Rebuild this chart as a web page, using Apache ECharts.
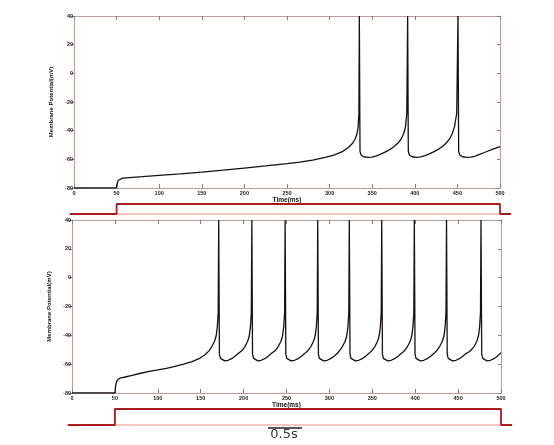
<!DOCTYPE html>
<html><head><meta charset="utf-8">
<script src="https://cdn.jsdelivr.net/npm/echarts@6/dist/echarts.min.js"></script>
<style>html,body{margin:0;padding:0;background:#fff}#c{width:554px;height:445px}</style>
</head><body><div id="c"></div>
<script>
// ---- data (time in ms, membrane potential in mV) ----
const topTrace = [
[0,-80],[50,-80],[50.5,-78],[51,-76],[52,-74.6],[54,-73.6],[57,-73.1],[65,-72.7],[80,-72.1],[100,-71.2],[125,-70.1],[150,-68.9],[175,-67.6],[200,-66.1],[225,-64.6],[250,-63],[265,-61.9],[280,-60.5],[295,-58.7],[305,-57],[315,-54.6],[322,-51.8],[327,-48.8],[330,-45.8],[332,-42.5],[333.5,-37.5],[334.4,-28],
[334.9,40],[335.4,40],[335.7,-54.5],[337,-57],[340,-58.2],[345,-58.7],[350,-58.4],[355,-57.6],[360,-56.4],[365,-55],[370,-53.4],[375,-51.4],[380,-48.8],[384,-45.8],[387,-42],[389,-37.5],[390.6,-28],
[391.6,40],[392.1,40],[392.4,-54.5],[393.7,-57],[397,-58.2],[402,-58.7],[407,-58.3],[412,-57.4],[417,-56.2],[422,-54.8],[427,-53.2],[432,-51.2],[437,-48.6],[441,-45.6],[444,-42],[446.5,-37.5],[449.2,-28],
[450.7,40],[451.2,40],[451.5,-54.5],[452.8,-57],[456,-58.2],[461,-58.7],[466,-58.5],[471,-57.7],[476,-56.6],[481,-55.4],[486,-54.2],[491,-53],[496,-52],[500,-51.2]
];
const bottomTrace = [
[0,-80],[50,-80],[50.5,-77],[51,-74.5],[52,-72],[54,-70.3],[57,-69.5],[62,-68.9],[70,-67.8],[80,-66.3],[90,-65.0],[100,-64.0],[110,-62.9],[120,-61.6],[130,-60.0],[140,-58.2],[148,-56.2],[155,-53.5],[160,-50.6],[163,-47.8],[166,-44.3],[168,-40.5],[169.4,-34],[170.4,-24],
[171,40],[171.5,40],[171.8,-53],[173,-56],[175,-57.3],[178,-57.7],[182,-57.3],[186,-56.2],[190,-54.5],[194,-52.5],
[198.6,-50.3],[201.6,-47.8],[204.6,-44.3],[206.6,-40.5],[208,-34],[209,-24],
[209.6,40],[210.1,40],[210.4,-53],[211.6,-56],[213.6,-57.3],[216.6,-57.7],[220.6,-57.3],[224.6,-56.2],[228.6,-54.5],[232.6,-52.5],
[237.4,-50.3],[240.4,-47.8],[243.4,-44.3],[245.4,-40.5],[246.8,-34],[247.8,-24],
[248.4,40],[248.9,40],[249.2,-53],[250.4,-56],[252.4,-57.3],[255.4,-57.7],[259.4,-57.3],[263.4,-56.2],[267.4,-54.5],[271.4,-52.5],
[275.4,-50.3],[278.4,-47.8],[281.4,-44.3],[283.4,-40.5],[284.8,-34],[285.8,-24],
[286.4,40],[286.9,40],[287.2,-53],[288.4,-56],[290.4,-57.3],[293.4,-57.7],[297.4,-57.3],[301.4,-56.2],[305.4,-54.5],[309.4,-52.5],
[312.2,-50.3],[315.2,-47.8],[318.2,-44.3],[320.2,-40.5],[321.6,-34],[322.6,-24],
[323.2,40],[323.7,40],[324,-53],[325.2,-56],[327.2,-57.3],[330.2,-57.7],[334.2,-57.3],[338.2,-56.2],[342.2,-54.5],[346.2,-52.5],
[350,-50.3],[353,-47.8],[356,-44.3],[358,-40.5],[359.4,-34],[360.4,-24],
[361,40],[361.5,40],[361.8,-53],[363,-56],[365,-57.3],[368,-57.7],[372,-57.3],[376,-56.2],[380,-54.5],[384,-52.5],
[388,-50.3],[391,-47.8],[394,-44.3],[396,-40.5],[397.4,-34],[398.4,-24],
[399,40],[399.5,40],[399.8,-53],[401,-56],[403,-57.3],[406,-57.7],[410,-57.3],[414,-56.2],[418,-54.5],[422,-52.5],
[425.5,-50.3],[428.5,-47.8],[431.5,-44.3],[433.5,-40.5],[434.9,-34],[435.9,-24],
[436.5,40],[437,40],[437.3,-53],[438.5,-56],[440.5,-57.3],[443.5,-57.7],[447.5,-57.3],[451.5,-56.2],[455.5,-54.5],[459.5,-52.5],
[463.5,-51.2],[465.7,-50.3],[468.7,-47.8],[471.7,-44.3],[473.7,-40.5],[475.1,-34],[476.1,-24],
[476.7,40],[477.2,40],[477.5,-53],[478.7,-56],[480.7,-57.3],[483.7,-57.7],[487.7,-57.3],[491.7,-56.2],[495.7,-54.5],[500,-52]
];
// stimulus step (0 = off, 1 = on)
const stimStep = [[-5,0],[50,0],[50,1],[500,1],[500,0],[513,0]];
const stimBase = [[50,0],[500,0]];
const stimRange = [-5, 513];
// axes
const timeRange = [0, 500, 50];      // min, max, interval
const vRange = [-80, 40, 20];
const timeName = 'Time(ms)';
const vName = 'Membrane Potential(mV)';
const scaleText = '0.5s';

const FF = 'Liberation Sans, Arial, sans-serif';
const frame = '#c49a9a', tickC = '#8a7a7a';

function mainX(g, gap) {
  return [
    {gridIndex:g, type:'value', min:timeRange[0], max:timeRange[1], interval:timeRange[2], position:'bottom',
     axisLine:{show:true,onZero:false,lineStyle:{color:frame,width:1}},
     axisTick:{show:true,inside:true,length:4,lineStyle:{color:tickC}},
     axisLabel:{fontSize:5.5,color:'#222',margin:2,fontFamily:FF,fontWeight:'bold'},
     splitLine:{show:false},
     name:timeName,nameLocation:'middle',nameGap:gap,
     nameTextStyle:{fontSize:6.5,fontWeight:'bold',color:'#111',fontFamily:FF}},
    {gridIndex:g, type:'value', min:timeRange[0], max:timeRange[1], interval:timeRange[2], position:'top',
     axisLine:{show:true,onZero:false,lineStyle:{color:frame,width:1}},
     axisTick:{show:true,inside:true,length:4,lineStyle:{color:tickC}},
     axisLabel:{show:false}, splitLine:{show:false}}
  ];
}
function mainY(g, gap) {
  return [
    {gridIndex:g, type:'value', min:vRange[0], max:vRange[1], interval:vRange[2], position:'left',
     axisLine:{show:true,onZero:false,lineStyle:{color:frame,width:1}},
     axisTick:{show:true,inside:false,length:3,lineStyle:{color:tickC}},
     axisLabel:{fontSize:5.5,color:'#222',margin:1,fontFamily:FF,fontWeight:'bold'},
     splitLine:{show:false},
     name:vName,nameLocation:'middle',nameGap:gap,nameRotate:90,
     nameTextStyle:{fontSize:6,fontWeight:'bold',color:'#111',fontFamily:FF}},
    {gridIndex:g, type:'value', min:vRange[0], max:vRange[1], interval:vRange[2], position:'right',
     axisLine:{show:true,onZero:false,lineStyle:{color:frame,width:1}},
     axisTick:{show:true,inside:true,length:3,lineStyle:{color:tickC}},
     axisLabel:{show:false}, splitLine:{show:false}}
  ];
}
function stimX(g){return {gridIndex:g,type:'value',min:stimRange[0],max:stimRange[1],show:false};}
function stimY(g){return {gridIndex:g,type:'value',min:0,max:1,show:false};}

// stimulus grids share the time scale of the panel above them, widened to stimRange
const sTop = 426/500, sBot = 429/500;

const chart = echarts.init(document.getElementById('c'), null, {renderer:'canvas'});
const traceStyle = {color:'#161010', width:1.3};
chart.setOption({
  animation:false,
  backgroundColor:'#fff',
  grid:[
    {left:74, top:16, width:426, height:172},
    {left:72, top:220, width:429, height:173},
    {left:74 + stimRange[0]*sTop, top:204, width:(stimRange[1]-stimRange[0])*sTop, height:10},
    {left:72 + stimRange[0]*sBot, top:409, width:(stimRange[1]-stimRange[0])*sBot, height:16}
  ],
  xAxis:[...mainX(0,6), ...mainX(1,9), stimX(2), stimX(3)],
  yAxis:[...mainY(0,12), ...mainY(1,11), stimY(2), stimY(3)],
  series:[
    {type:'line', xAxisIndex:0, yAxisIndex:0, data:topTrace, showSymbol:false, lineStyle:traceStyle, clip:true},
    {type:'line', xAxisIndex:2, yAxisIndex:2, data:bottomTrace, showSymbol:false, lineStyle:traceStyle, clip:true},
    {type:'line', xAxisIndex:4, yAxisIndex:4, data:stimBase, showSymbol:false, clip:false, lineStyle:{color:'#f0b4aa',width:1.3}},
    {type:'line', xAxisIndex:4, yAxisIndex:4, data:stimStep, showSymbol:false, clip:false, lineStyle:{color:'#a81c1c',width:1.8}},
    {type:'line', xAxisIndex:5, yAxisIndex:5, data:stimBase, showSymbol:false, clip:false, lineStyle:{color:'#f0b4aa',width:1.3}},
    {type:'line', xAxisIndex:5, yAxisIndex:5, data:stimStep, showSymbol:false, clip:false, lineStyle:{color:'#a81c1c',width:1.8}}
  ],
  graphic:[
    {type:'line', shape:{x1:268,y1:428,x2:302,y2:428}, style:{stroke:'#222',lineWidth:1.5}},
    {type:'text', x:284, y:435, style:{text:scaleText, fill:'#333', font:'13px "DejaVu Sans", sans-serif', textAlign:'center', textVerticalAlign:'middle'}}
  ]
});
</script></body></html>
